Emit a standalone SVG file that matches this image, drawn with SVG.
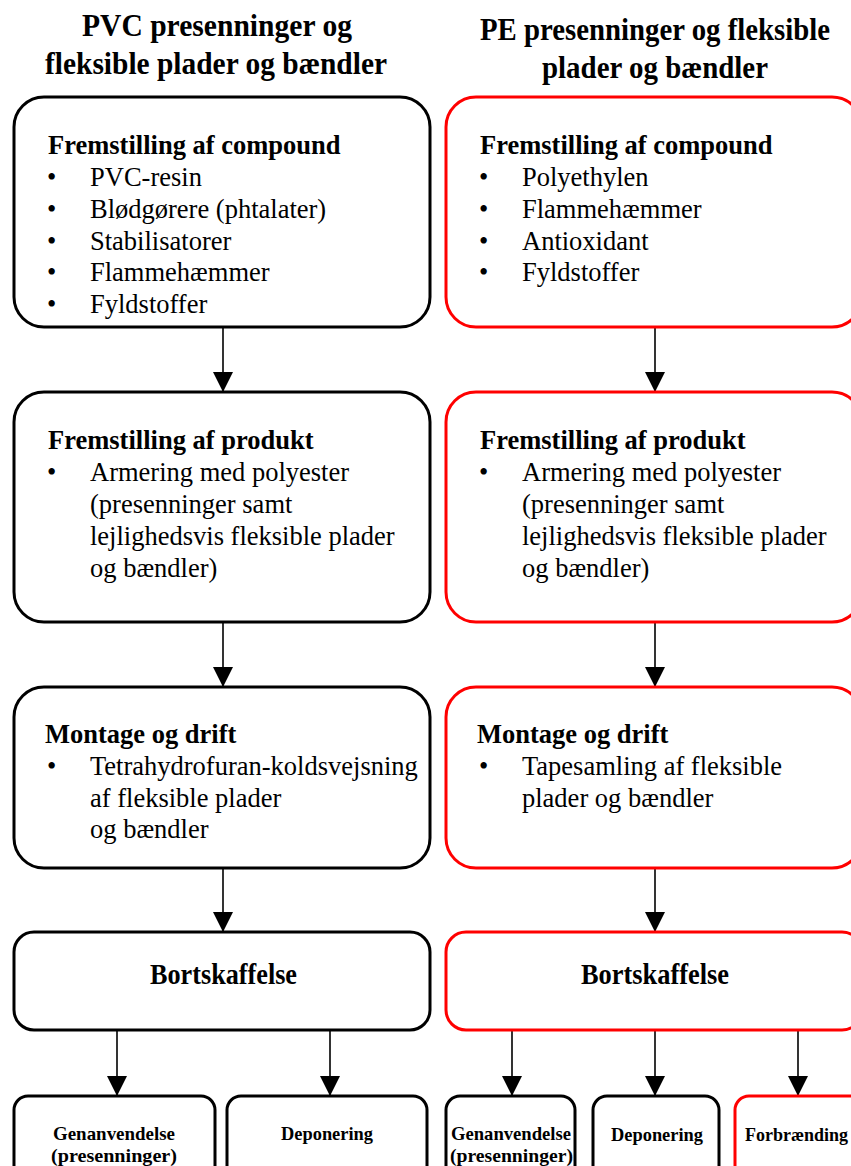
<svg xmlns="http://www.w3.org/2000/svg" width="851" height="1166" viewBox="0 0 851 1166">
  <style>
    .box { fill: #fff; stroke: #000; stroke-width: 3; }
    .red { stroke: #ff0000; }
    .title { font-family: "Liberation Serif", "Times New Roman", serif; font-weight: bold; font-size: 32px; fill: #000; }
    .head { font-family: "Liberation Serif", "Times New Roman", serif; font-weight: bold; font-size: 26.5px; fill: #000; }
    .txt { font-family: "Liberation Serif", "Times New Roman", serif; font-size: 26.5px; fill: #000; }
    .disp { font-family: "Liberation Serif", "Times New Roman", serif; font-weight: bold; font-size: 29px; fill: #000; }
    .small { font-family: "Liberation Serif", "Times New Roman", serif; font-weight: bold; font-size: 19.5px; fill: #000; }
    .conn { stroke: #000; stroke-width: 1.6; fill: none; marker-end: url(#ah); }
  </style>
  <defs>
    <marker id="ah" markerWidth="20" markerHeight="20" refX="20" refY="10" orient="auto" markerUnits="userSpaceOnUse">
      <path d="M0,0 L20,10 L0,20 z" fill="#000"/>
    </marker>
  </defs>

  <!-- column titles -->
  <g id="title-pvc">
    <text class="title" x="82" y="36" textLength="270" lengthAdjust="spacingAndGlyphs">PVC presenninger og</text>
    <text class="title" x="45" y="74" textLength="342" lengthAdjust="spacingAndGlyphs">fleksible plader og bændler</text>
  </g>
  <g id="title-pe">
    <text class="title" x="480" y="40" textLength="350" lengthAdjust="spacingAndGlyphs">PE presenninger og fleksible</text>
    <text class="title" x="542" y="78" textLength="226" lengthAdjust="spacingAndGlyphs">plader og bændler</text>
  </g>

  <!-- connectors -->
  <g id="connectors">
    <line class="conn" x1="223" y1="327" x2="223" y2="392"/>
    <line class="conn" x1="223" y1="622" x2="223" y2="687"/>
    <line class="conn" x1="223" y1="868" x2="223" y2="932"/>
    <line class="conn" x1="655" y1="327" x2="655" y2="392"/>
    <line class="conn" x1="655" y1="622" x2="655" y2="687"/>
    <line class="conn" x1="655" y1="868" x2="655" y2="932"/>
    <line class="conn" x1="117" y1="1030" x2="117" y2="1096"/>
    <line class="conn" x1="330" y1="1030" x2="330" y2="1096"/>
    <line class="conn" x1="512" y1="1030" x2="512" y2="1096"/>
    <line class="conn" x1="655" y1="1030" x2="655" y2="1096"/>
    <line class="conn" x1="798" y1="1030" x2="798" y2="1096"/>
  </g>

  <!-- PVC column -->
  <g id="pvc-compound">
    <rect class="box" x="14" y="97" width="416" height="230" rx="30"/>
    <text class="head" x="48" y="154">Fremstilling af compound</text>
    <text class="txt" x="47" y="186">•</text><text class="txt" x="90" y="186">PVC-resin</text>
    <text class="txt" x="47" y="218">•</text><text class="txt" x="90" y="218">Blødgørere (phtalater)</text>
    <text class="txt" x="47" y="250">•</text><text class="txt" x="90" y="250">Stabilisatorer</text>
    <text class="txt" x="47" y="281">•</text><text class="txt" x="90" y="281">Flammehæmmer</text>
    <text class="txt" x="47" y="313">•</text><text class="txt" x="90" y="313">Fyldstoffer</text>
  </g>
  <g id="pvc-produkt">
    <rect class="box" x="14" y="392" width="416" height="230" rx="30"/>
    <text class="head" x="48" y="449">Fremstilling af produkt</text>
    <text class="txt" x="47" y="481">•</text><text class="txt" x="90" y="481">Armering med polyester</text>
    <text class="txt" x="90" y="513">(presenninger samt</text>
    <text class="txt" x="90" y="545">lejlighedsvis fleksible plader</text>
    <text class="txt" x="90" y="577">og bændler)</text>
  </g>
  <g id="pvc-montage">
    <rect class="box" x="14" y="687" width="416" height="181" rx="30"/>
    <text class="head" x="45" y="743">Montage og drift</text>
    <text class="txt" x="47" y="775">•</text><text class="txt" x="90" y="775">Tetrahydrofuran-koldsvejsning</text>
    <text class="txt" x="90" y="807">af fleksible plader</text>
    <text class="txt" x="90" y="838">og bændler</text>
  </g>
  <g id="pvc-bortskaffelse">
    <rect class="box" x="14" y="932" width="416" height="98" rx="20"/>
    <text class="disp" x="150" y="984" textLength="147" lengthAdjust="spacingAndGlyphs">Bortskaffelse</text>
  </g>
  <g id="pvc-genanvendelse">
    <rect class="box" x="14" y="1096" width="201" height="100" rx="14"/>
    <text class="small" x="53" y="1140" textLength="122" lengthAdjust="spacingAndGlyphs">Genanvendelse</text>
    <text class="small" x="51" y="1162" textLength="126" lengthAdjust="spacingAndGlyphs">(presenninger)</text>
  </g>
  <g id="pvc-deponering">
    <rect class="box" x="227" y="1096" width="200" height="100" rx="14"/>
    <text class="small" x="281" y="1140" textLength="92" lengthAdjust="spacingAndGlyphs">Deponering</text>
  </g>

  <!-- PE column -->
  <g id="pe-compound">
    <rect class="box red" x="446" y="97" width="416" height="230" rx="30"/>
    <text class="head" x="480" y="154">Fremstilling af compound</text>
    <text class="txt" x="479" y="186">•</text><text class="txt" x="522" y="186">Polyethylen</text>
    <text class="txt" x="479" y="218">•</text><text class="txt" x="522" y="218">Flammehæmmer</text>
    <text class="txt" x="479" y="250">•</text><text class="txt" x="522" y="250">Antioxidant</text>
    <text class="txt" x="479" y="281">•</text><text class="txt" x="522" y="281">Fyldstoffer</text>
  </g>
  <g id="pe-produkt">
    <rect class="box red" x="446" y="392" width="416" height="230" rx="30"/>
    <text class="head" x="480" y="449">Fremstilling af produkt</text>
    <text class="txt" x="479" y="481">•</text><text class="txt" x="522" y="481">Armering med polyester</text>
    <text class="txt" x="522" y="513">(presenninger samt</text>
    <text class="txt" x="522" y="545">lejlighedsvis fleksible plader</text>
    <text class="txt" x="522" y="577">og bændler)</text>
  </g>
  <g id="pe-montage">
    <rect class="box red" x="446" y="687" width="416" height="181" rx="30"/>
    <text class="head" x="477" y="743">Montage og drift</text>
    <text class="txt" x="479" y="775">•</text><text class="txt" x="522" y="775">Tapesamling af fleksible</text>
    <text class="txt" x="522" y="807">plader og bændler</text>
  </g>
  <g id="pe-bortskaffelse">
    <rect class="box red" x="446" y="932" width="416" height="98" rx="20"/>
    <text class="disp" x="581" y="984" textLength="148" lengthAdjust="spacingAndGlyphs">Bortskaffelse</text>
  </g>
  <g id="pe-genanvendelse">
    <rect class="box" x="446" y="1096" width="129" height="100" rx="14"/>
    <text class="small" x="451" y="1140" textLength="120" lengthAdjust="spacingAndGlyphs">Genanvendelse</text>
    <text class="small" x="450" y="1162" textLength="123" lengthAdjust="spacingAndGlyphs">(presenninger)</text>
  </g>
  <g id="pe-deponering">
    <rect class="box" x="593" y="1096" width="126" height="100" rx="14"/>
    <text class="small" x="611" y="1141" textLength="92" lengthAdjust="spacingAndGlyphs">Deponering</text>
  </g>
  <g id="pe-forbraending">
    <rect class="box red" x="735" y="1096" width="130" height="100" rx="14"/>
    <text class="small" x="745" y="1141" textLength="103" lengthAdjust="spacingAndGlyphs">Forbrænding</text>
  </g>
</svg>
